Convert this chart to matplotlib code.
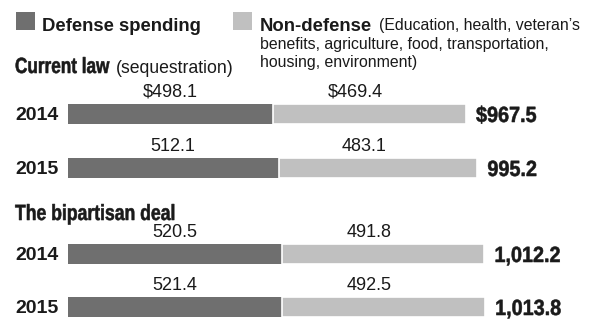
import matplotlib
matplotlib.use("Agg")
import matplotlib.pyplot as plt
from matplotlib.patches import Rectangle, PathPatch
from matplotlib.textpath import TextPath
from matplotlib.font_manager import FontProperties
from matplotlib.transforms import Affine2D

# data (billions of dollars)
sections = ["Current law", "The bipartisan deal"]
years = ["2014", "2015", "2014", "2015"]
defense = [498.1, 512.1, 520.5, 521.4]
nondefense = [469.4, 483.1, 491.8, 492.5]
totals = ["$967.5", "995.2", "1,012.2", "1,013.8"]
def_labels = ["$498.1", "512.1", "520.5", "521.4"]
non_labels = ["$469.4", "483.1", "491.8", "492.5"]

# layout (pixel rows, bar scale)
W, H = 601, 323
row_y = [114, 168, 254, 307]
bar_h = 20
x0_px = 67.7
px_per_unit = 0.4117

c_def = "#6f6f6f"
c_non = "#c0c0c0"
c_txt = "#1a1a1a"

plt.rcParams["font.family"] = ["Liberation Sans", "DejaVu Sans"]
bold_fp = FontProperties(family="Liberation Sans", weight="bold")

fig = plt.figure(figsize=(W / 100, H / 100), dpi=100)
fig.patch.set_facecolor("white")

# bars in value units
ax = fig.add_axes([0, 0, 1, 1])
ax.set_xlim(-x0_px / px_per_unit, (W - x0_px) / px_per_unit)
ax.set_ylim(H, 0)
ax.axis("off")

ax.barh(row_y, defense, height=bar_h, color=c_def, linewidth=0)
ax.barh(row_y, nondefense, left=defense, height=bar_h, color=c_non,
        edgecolor="white", linewidth=1.2)

# text overlay in pixel coords
tx = fig.add_axes([0, 0, 1, 1])
tx.set_xlim(0, W)
tx.set_ylim(H, 0)
tx.axis("off")
tx.patch.set_alpha(0)


def condensed(x, y, s, size, sx):
    # heavy condensed headline look: bold glyphs squeezed sideways
    p = TextPath((0, 0), s, size=size, prop=bold_fp)
    tr = Affine2D().scale(sx, -1).translate(x, y) + tx.transData
    tx.add_patch(PathPatch(p, transform=tr, facecolor=c_txt, edgecolor=c_txt,
                           linewidth=0.4))


for i in range(len(years)):
    y = row_y[i]
    ax.text(defense[i] / 2, y - 17, def_labels[i], ha="center", va="baseline",
            fontsize=13, color=c_txt)
    ax.text(defense[i] + nondefense[i] * 0.43, y - 17, non_labels[i],
            ha="center", va="baseline", fontsize=13, color=c_txt)
    end_px = x0_px + (defense[i] + nondefense[i]) * px_per_unit
    condensed(end_px + 10, y + 8, totals[i], 22, 0.9)
    tx.text(15, y + 6, years[i], ha="left", va="baseline",
            fontsize=14, fontweight="bold", color=c_txt)

# legend
tx.add_patch(Rectangle((16, 12), 19, 18, color=c_def, linewidth=0))
tx.text(42, 31, "Defense spending", fontsize=13.3, fontweight="bold",
        va="baseline", color=c_txt)
tx.add_patch(Rectangle((233, 12), 19, 18, color=c_non, linewidth=0))
tx.text(260, 31, "Non-defense", fontsize=13.3, fontweight="bold",
        va="baseline", color=c_txt)
tx.text(379, 30, "(Education, health, veteran\u2019s", fontsize=11.4,
        va="baseline", color=c_txt)
tx.text(260, 49, "benefits, agriculture, food, transportation,", fontsize=11.4,
        va="baseline", color=c_txt)
tx.text(260, 67, "housing, environment)", fontsize=11.4, va="baseline",
        color=c_txt)

# section headers
condensed(15, 73, sections[0], 22, 0.78)
tx.text(116, 73, "(sequestration)", fontsize=12.7, va="baseline", color=c_txt)
condensed(15, 220, sections[1], 22, 0.8)

fig.savefig("out.png", dpi=100, facecolor="white")
